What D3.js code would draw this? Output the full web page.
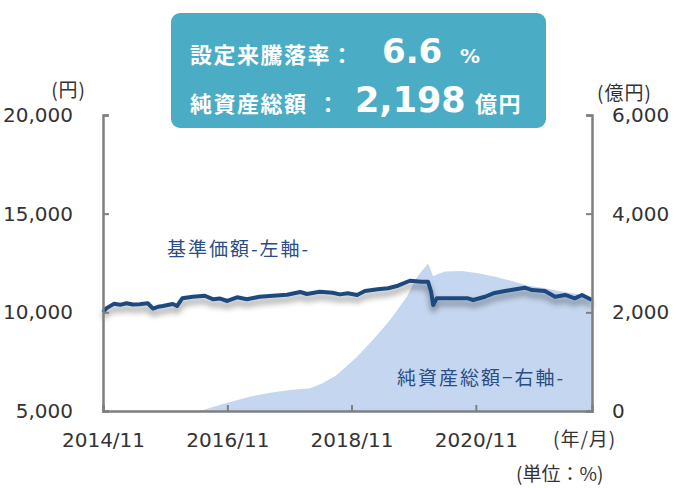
<!DOCTYPE html>
<html>
<head>
<meta charset="utf-8">
<script src="https://cdn.jsdelivr.net/npm/d3@7"></script>
<style>
	body { margin: 0; background: #fff; }
	svg { display: block; }
</style>
</head>
<body>
<div id="chart"></div>
<script>
	'use strict';

	// 基準価額 (円) - left axis
	var navDates = ['2014-11-01', '2014-11-20', '2015-01-04', '2015-02-10', '2015-03-19', '2015-04-25',
		'2015-06-04', '2015-07-22', '2015-08-22', '2015-09-20', '2015-10-19', '2015-12-16',
		'2016-01-10', '2016-02-10', '2016-04-12', '2016-06-22', '2016-08-10', '2016-09-20',
		'2016-11-01', '2016-12-28', '2017-02-24', '2017-05-10', '2017-07-28', '2017-10-18',
		'2018-01-04', '2018-02-12', '2018-04-28', '2018-07-12', '2018-08-25', '2018-10-10',
		'2018-12-04', '2019-01-19', '2019-04-04', '2019-06-04', '2019-08-01', '2019-10-10',
		'2019-12-19', '2020-01-25', '2020-02-12', '2020-02-24', '2020-03-16', '2020-06-12',
		'2020-09-16', '2020-10-16', '2020-12-25', '2021-02-12', '2021-04-22', '2021-08-16',
		'2021-09-28', '2021-12-12', '2022-02-10', '2022-04-10', '2022-06-06', '2022-07-18',
		'2022-09-15'];
	var navValues = [10000, 10200, 10430, 10380, 10460, 10400,
		10410, 10460, 10190, 10280, 10320, 10420,
		10320, 10710, 10790, 10840, 10660, 10700,
		10575, 10760, 10660, 10790, 10840, 10890,
		11030, 10930, 11045, 10995, 10910, 10965,
		10880, 11080, 11170, 11220, 11350, 11600,
		11550, 11550, 11050, 10370, 10710, 10710,
		10710, 10625, 10790, 10965, 11080, 11250,
		11130, 11080, 10790, 10880, 10710, 10880,
		10625];

	// 純資産総額 (億円) - right axis
	var aumDates = ['2016-05-22', '2016-10-06', '2017-03-12', '2017-07-10', '2017-11-04', '2018-03-01',
		'2018-05-16', '2018-08-06', '2018-10-22', '2018-12-04', '2019-03-06', '2019-06-16',
		'2019-09-22', '2019-11-22', '2020-01-25', '2020-02-24', '2020-04-04', '2020-05-04',
		'2020-08-12', '2020-11-16', '2021-02-22', '2021-06-01', '2021-09-04', '2021-12-12',
		'2022-03-22', '2022-06-25', '2022-08-20', '2022-09-15'];
	var aumValues = [0, 140, 290, 370, 425, 460,
		560, 730, 967, 1100, 1440, 1845,
		2317, 2720, 2990, 2730, 2790, 2830,
		2840, 2790, 2720, 2635, 2540, 2487,
		2420, 2365, 2300, 2198];

	var xTicks = ['2014-11-01', '2016-11-01', '2018-11-01', '2020-11-01'];
	var leftTicks = [5000, 10000, 15000, 20000];
	var rightTicks = [0, 2000, 4000, 6000];

	var returnText = '6.6';
	var aumText = '2,198';

	var parse = d3.timeParse('%Y-%m-%d');
	var nav = navDates.map(function(d, i) { return { date: parse(d), value: navValues[i] }; });
	var aum = aumDates.map(function(d, i) { return { date: parse(d), value: aumValues[i] }; });

	var W = 688, H = 488;
	var plot = { left: 103, right: 592, top: 115, bottom: 411 };

	var svg = d3.select('#chart').append('svg')
		.attr('width', W)
		.attr('height', H);

	// Shadow under the price line
	var filter = svg.append('defs').append('filter')
		.attr('id', 'shadow')
		.attr('x', '-5%').attr('y', '-50%')
		.attr('width', '110%').attr('height', '250%');
	filter.append('feGaussianBlur').attr('in', 'SourceAlpha').attr('stdDeviation', 3).attr('result', 'blur');
	filter.append('feOffset').attr('in', 'blur').attr('dy', 5).attr('result', 'off');
	filter.append('feComponentTransfer').attr('in', 'off').attr('result', 'shade')
		.append('feFuncA').attr('type', 'linear').attr('slope', 0.45);
	var merge = filter.append('feMerge');
	merge.append('feMergeNode').attr('in', 'shade');
	merge.append('feMergeNode').attr('in', 'SourceGraphic');

	// Scales
	var x = d3.scaleTime()
		.domain([parse('2014-11-01'), parse('2022-09-15')])
		.range([plot.left, plot.right]);

	var yL = d3.scaleLinear()
		.domain([5000, 20000])
		.range([plot.bottom, plot.top]);

	var yR = d3.scaleLinear()
		.domain([0, 6000])
		.range([plot.bottom, plot.top]);

	// Net assets area
	var area = d3.area()
		.x(function(d) { return x(d.date); })
		.y0(plot.bottom)
		.y1(function(d) { return yR(d.value); });

	svg.append('path')
		.datum(aum)
		.attr('fill', '#c5d7f0')
		.attr('d', area);

	// Price line
	var line = d3.line()
		.x(function(d) { return x(d.date); })
		.y(function(d) { return yL(d.value); });

	svg.append('path')
		.datum(nav)
		.attr('fill', 'none')
		.attr('stroke', '#1f4a7e')
		.attr('stroke-width', 4)
		.attr('stroke-linejoin', 'round')
		.attr('filter', 'url(#shadow)')
		.attr('d', line);

	// Axes
	function styleAxis(g) {
		g.select('.domain').attr('stroke', '#7f7f7f').attr('stroke-width', 2.5);
		g.selectAll('.tick line').attr('stroke', '#7f7f7f').attr('stroke-width', 2);
		g.selectAll('text')
			.attr('fill', '#333')
			.attr('font-family', 'DejaVu Sans, Verdana, sans-serif')
			.attr('font-size', 20);
	}

	svg.append('g')
		.attr('transform', 'translate(' + plot.left + ',0)')
		.call(d3.axisLeft(yL)
			.tickValues(leftTicks)
			.tickFormat(d3.format(','))
			.tickSizeInner(-6)
			.tickSizeOuter(-6)
			.tickPadding(30))
		.call(styleAxis);

	svg.append('g')
		.attr('transform', 'translate(' + plot.right + ',0)')
		.call(d3.axisRight(yR)
			.tickValues(rightTicks)
			.tickFormat(d3.format(','))
			.tickSizeInner(-6)
			.tickSizeOuter(-6)
			.tickPadding(20))
		.call(styleAxis);

	svg.append('g')
		.attr('transform', 'translate(0,' + plot.bottom + ')')
		.call(d3.axisBottom(x)
			.tickValues(xTicks.map(parse))
			.tickFormat(d3.timeFormat('%Y/%m'))
			.tickSizeInner(-6)
			.tickSizeOuter(-6)
			.tickPadding(22))
		.call(styleAxis);

	// Unit labels
	var jp = 'Noto Sans CJK JP, sans-serif';

	function label(txt, xx, yy, size, color, anchor) {
		return svg.append('text')
			.attr('x', xx)
			.attr('y', yy)
			.attr('font-family', jp)
			.attr('font-size', size)
			.attr('fill', color)
			.attr('text-anchor', anchor || 'start')
			.text(txt);
	}

	label('(円)', 86, 97, 19, '#333', 'end').attr('letter-spacing', 1);
	label('(億円)', 597, 100, 19, '#333').attr('letter-spacing', 1);
	label('(年/月)', 553, 446, 19, '#333').attr('letter-spacing', 1);
	label('(単位：%)', 516, 481, 19, '#333');

	// Series labels
	label('基準価額-左軸-', 167, 256, 19, '#2a4d85').attr('letter-spacing', 2);
	label('純資産総額−右軸-', 397, 385, 19, '#2a4d85').attr('letter-spacing', 2);

	// Summary box
	svg.append('rect')
		.attr('x', 171)
		.attr('y', 13)
		.attr('width', 375)
		.attr('height', 115)
		.attr('rx', 9)
		.attr('fill', '#4bacc6');

	var num = 'DejaVu Sans, Verdana, sans-serif';

	label('設定来騰落率', 190, 63, 22, '#fff').attr('font-weight', 'bold').attr('letter-spacing', 1.5);
	label('：', 342, 63, 22, '#fff', 'middle').attr('font-weight', 'bold');
	label(returnText, 382, 63, 34, '#fff').attr('font-weight', 'bold').attr('font-family', num);
	label('%', 460, 63, 20, '#fff').attr('font-weight', 'bold').attr('font-family', num);

	label('純資産総額', 190, 112, 22, '#fff').attr('font-weight', 'bold').attr('letter-spacing', 1.5);
	label('：', 328, 112, 22, '#fff', 'middle').attr('font-weight', 'bold');
	label(aumText, 355, 112, 35, '#fff').attr('font-weight', 'bold').attr('font-family', num);
	label('億円', 475, 112, 22, '#fff').attr('font-weight', 'bold').attr('letter-spacing', 1.5);
</script>
</body>
</html>
